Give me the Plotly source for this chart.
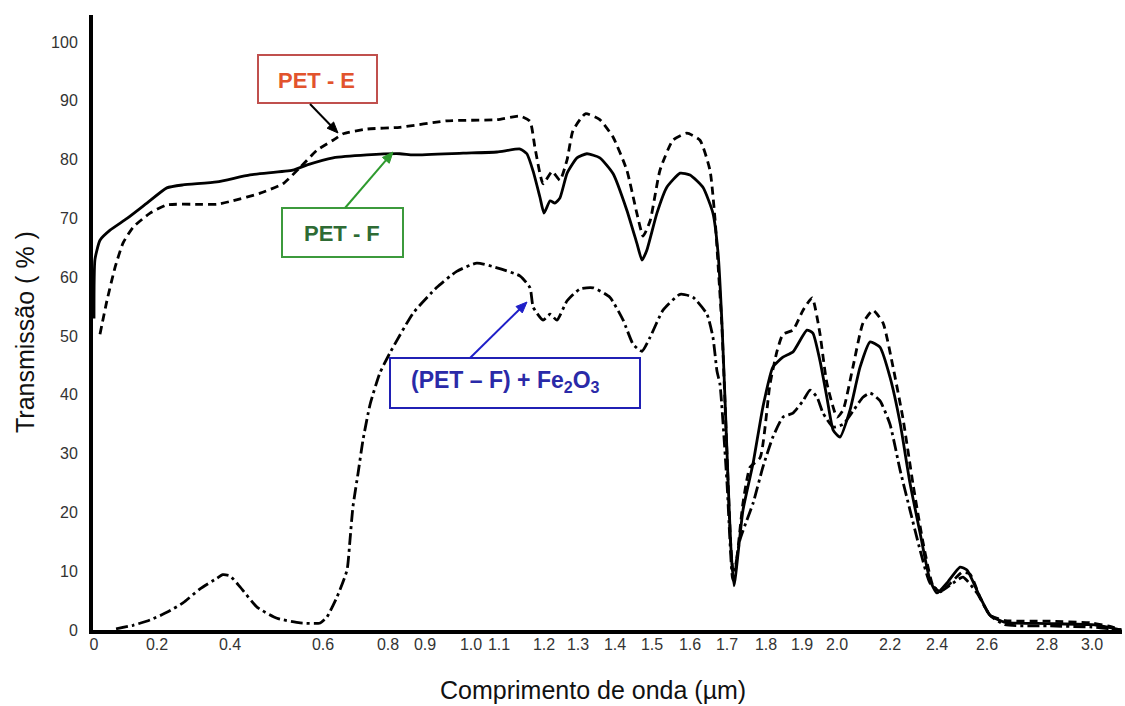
import numpy as np
import plotly.graph_objects as go

# ---------------- data (wavelength in µm, transmission in %) ----------------
TICK_UM = [0.0, 0.2, 0.4, 0.6, 0.8, 0.9, 1.0, 1.1, 1.2, 1.3, 1.4, 1.5, 1.6, 1.7,
           1.8, 1.9, 2.0, 2.2, 2.4, 2.6, 2.8, 3.0]
TICK_TEXT = ["0", "0.2", "0.4", "0.6", "0.8", "0.9", "1.0", "1.1", "1.2", "1.3", "1.4",
             "1.5", "1.6", "1.7", "1.8", "1.9", "2.0", "2.2", "2.4", "2.6", "2.8", "3.0"]
Y_TICKS = [0, 10, 20, 30, 40, 50, 60, 70, 80, 90, 100]

pet_f_wl = [0.0, 0.003, 0.019, 0.051, 0.105, 0.168, 0.227, 0.271, 0.364, 0.443, 0.535,
            0.566, 0.631, 0.735, 0.832, 0.868, 0.983, 1.093, 1.147, 1.162, 1.176, 1.191,
            1.2, 1.218, 1.232, 1.247, 1.268, 1.297, 1.324, 1.359, 1.395, 1.432, 1.459,
            1.473, 1.486, 1.513, 1.539, 1.574, 1.6, 1.635, 1.662, 1.676, 1.686, 1.695,
            1.703, 1.71, 1.718, 1.741, 1.767, 1.792, 1.819, 1.847, 1.875, 1.914, 1.931,
            1.951, 1.971, 1.989, 2.011, 2.049, 2.087, 2.125, 2.162, 2.2, 2.243, 2.285,
            2.328, 2.37, 2.4, 2.44, 2.492, 2.52, 2.572, 2.61, 2.66, 2.8, 3.0, 3.08, 3.13]
pet_f_t = [53, 63, 66.3, 68, 70, 72.6, 75.2, 75.7, 76.2, 77.4, 78.2,
           79.1, 80.3, 80.8, 81, 80.8, 81.1, 81.3, 81.8, 81, 78, 73.6,
           70.9, 73, 72.6, 73.5, 77.7, 80.3, 81, 80.3, 77.6, 71.4, 65.8,
           62.9, 64.6, 70.9, 75.3, 77.7, 77.4, 75.3, 70.9, 64, 52.7, 38.6,
           25, 14, 7.5, 20.4, 28.4, 37.9, 44.7, 46.4, 47.3, 51, 50.5,
           45.9, 39.6, 34, 32.8, 37.4, 44.7, 49, 48.1, 43, 35.2, 25,
           16.5, 8.5, 6.3, 8, 10.7, 10.2, 5.6, 2.5, 1.3, 1.1, 0.9, 0.4, 0]

pet_e_wl = [0.019, 0.041, 0.067, 0.092, 0.124, 0.178, 0.227, 0.318, 0.364, 0.406, 0.465,
            0.514, 0.551, 0.587, 0.631, 0.662, 0.735, 0.832, 0.948, 1.093, 1.147, 1.169,
            1.18, 1.198, 1.224, 1.247, 1.268, 1.285, 1.32, 1.359, 1.395, 1.432, 1.459,
            1.476, 1.495, 1.521, 1.555, 1.592, 1.627, 1.654, 1.668, 1.678, 1.686, 1.695,
            1.71, 1.718, 1.741, 1.759, 1.785, 1.811, 1.831, 1.847, 1.875, 1.903, 1.929,
            1.951, 1.971, 2.0, 2.023, 2.06, 2.098, 2.136, 2.174, 2.213, 2.255, 2.298,
            2.34, 2.383, 2.413, 2.455, 2.5, 2.532, 2.572, 2.61, 2.66, 2.8, 3.0, 3.08, 3.13]
pet_e_t = [50.3, 56, 61.7, 65.8, 68.5, 70.9, 72.3, 72.4, 72.4, 73, 74.3,
           75.9, 78.7, 81.6, 83.3, 84.4, 85.2, 85.5, 86.6, 86.8, 87.4, 86.5,
           82, 75.9, 78, 76.5, 80, 84.9, 87.8, 86.8, 83.8, 78.2, 70.9,
           67, 69.6, 78.2, 83.3, 84.5, 83.3, 78.2, 69.6, 60, 52, 38,
           14, 8.5, 21.6, 27.7, 29.3, 41.8, 47.5, 50.3, 51, 54.4, 56.5,
           50.5, 42, 36.2, 37.4, 44.7, 52.2, 54.4, 52.2, 44.7, 36, 24.8,
           15, 7.5, 6.5, 8, 9.8, 9.5, 5.6, 2.5, 1.6, 1.5, 1.2, 0.6, 0]

pet_fe_wl = [0.07, 0.124, 0.178, 0.227, 0.271, 0.318, 0.364, 0.38, 0.4, 0.422, 0.458,
             0.501, 0.551, 0.594, 0.612, 0.643, 0.674, 0.683, 0.692, 0.708, 0.723, 0.745,
             0.775, 0.805, 0.868, 0.926, 0.969, 1.021, 1.093, 1.147, 1.169, 1.176, 1.198,
             1.218, 1.238, 1.268, 1.305, 1.341, 1.386, 1.422, 1.449, 1.473, 1.495, 1.529,
             1.574, 1.608, 1.646, 1.662, 1.673, 1.681, 1.7, 1.715, 1.733, 1.751, 1.767,
             1.792, 1.819, 1.847, 1.875, 1.903, 1.923, 1.943, 1.96, 1.989, 2.023, 2.06,
             2.098, 2.125, 2.162, 2.2, 2.243, 2.285, 2.328, 2.37, 2.413, 2.464, 2.504,
             2.56, 2.61, 2.66, 2.8, 3.0, 3.08, 3.13]
pet_fe_t = [0.2, 0.8, 1.7, 3, 4.6, 7, 8.8, 9.4, 9.2, 7.3, 3.9,
            2, 1.2, 1.2, 2.2, 5.6, 10.2, 15.3, 20.9, 26.7, 32.3, 38.4,
            43.7, 47.1, 53.9, 58.3, 61, 62.4, 61.6, 60.2, 58.2, 54.9, 52.7,
            53.7, 52.7, 56, 58, 58.2, 56.6, 52.7, 48.6, 47.4, 49.8, 54.4,
            57.1, 56.6, 53.7, 49.8, 44, 41.8, 25, 8.5, 15.3, 18.7, 21.6,
            27.7, 32.8, 36.2, 36.9, 39, 40.8, 39.6, 36.9, 34.5, 35, 37.2,
            39.6, 40.3, 39, 35, 27.2, 20.4, 13.6, 8, 6.6, 8, 9,
            6.3, 2.5, 0.9, 0.7, 0.5, 0.2, 0]

# ---------------- scale: the reference's hand-spaced (non-uniform) x axis ----------------
AXIS_POS = [94, 157, 230, 323, 388, 425, 471, 499, 544, 578, 615, 652, 690, 727,
            766, 802, 837, 890, 937, 987, 1047, 1092]
_scale_um = TICK_UM + [3.2]
_scale_pos = AXIS_POS + [1137]


def xs(um):
    return np.interp(np.asarray(um, dtype=float), _scale_um, _scale_pos)


FONT = "Liberation Sans, Arial, Helvetica, sans-serif"
W, H = 1125, 706
ML, MR, MT, MB = 93, 3, 15, 76
PW, PH = W - ML - MR, H - MT - MB


def px(x, y):
    """page pixel -> paper coordinates"""
    return (x - ML) / PW, (H - MB - y) / PH


fig = go.Figure()
common = dict(mode="lines", showlegend=False, hoverinfo="skip",
              line_shape="spline", line_smoothing=0.5)
fig.add_trace(go.Scatter(x=xs(pet_e_wl), y=pet_e_t, name="PET - E",
                         line=dict(color="black", width=2.8, dash="8px,5px"), **common))
fig.add_trace(go.Scatter(x=xs(pet_fe_wl), y=pet_fe_t, name="(PET – F) + Fe2O3",
                         line=dict(color="black", width=2.8, dash="12px,4px,3px,4px"), **common))
fig.add_trace(go.Scatter(x=xs(pet_f_wl), y=pet_f_t, name="PET - F",
                         line=dict(color="black", width=2.8), **common))

# label boxes (page pixels)
boxes = [
    dict(x0=258, x1=377, y0=55, y1=103, color="#c0504d"),
    dict(x0=282, x1=403, y0=208, y1=257, color="#3c9a3c"),
    dict(x0=390, x1=640, y0=358, y1=408, color="#2020b4"),
]
for b in boxes:
    X0, Y0 = px(b["x0"], b["y1"])
    X1, Y1 = px(b["x1"], b["y0"])
    fig.add_shape(type="rect", xref="paper", yref="paper", x0=X0, x1=X1, y0=Y0, y1=Y1,
                  line=dict(color=b["color"], width=2), fillcolor="white", layer="above")

labels = [
    dict(x=316, y=80, text="PET - E", color="#e2532d", size=22),
    dict(x=342, y=233, text="PET - F", color="#2e6b34", size=22),
    dict(x=505, y=382, text="(PET – F) + Fe<sub>2</sub>O<sub>3</sub>", color="#2a2aa8", size=23),
]
for l in labels:
    X, Y = px(l["x"], l["y"])
    fig.add_annotation(x=X, y=Y, xref="paper", yref="paper", text="<b>" + l["text"] + "</b>",
                       xanchor="center", yanchor="middle",
                       showarrow=False, font=dict(family=FONT, size=l["size"], color=l["color"]))

# arrows (line + filled head), page pixels
arrows = [
    dict(t=(310, 104), h=(338, 133), color="black"),
    dict(t=(345, 208), h=(393, 152), color="#2e9a2e"),
    dict(t=(470, 358), h=(527, 302), color="#1f1fc8"),
]
for a in arrows:
    tx, ty = a["t"]
    hx, hy = a["h"]
    d = np.array([hx - tx, hy - ty], dtype=float)
    d /= np.hypot(*d)
    n = np.array([-d[1], d[0]])
    L, Wd = 11.0, 4.5
    base = np.array([hx, hy]) - d * L
    p1 = base + n * Wd
    p2 = base - n * Wd
    X0, Y0 = px(tx, ty)
    X1, Y1 = px(*(base + d * 1.0))
    fig.add_shape(type="line", xref="paper", yref="paper", x0=X0, y0=Y0, x1=X1, y1=Y1,
                  line=dict(color=a["color"], width=2), layer="above")
    pts = [px(hx, hy), px(*p1), px(*p2)]
    path = "M {:.5f},{:.5f} L {:.5f},{:.5f} L {:.5f},{:.5f} Z".format(*pts[0], *pts[1], *pts[2])
    fig.add_shape(type="path", xref="paper", yref="paper", path=path,
                  fillcolor=a["color"], line=dict(color=a["color"], width=1), layer="above")

# axis titles
tx, ty = px(593, 690)
fig.add_annotation(x=tx, y=ty, xref="paper", yref="paper", text="Comprimento de onda (µm)",
                   xanchor="center", yanchor="middle",
                   showarrow=False, font=dict(family=FONT, size=25, color="#111"))
tx, ty = px(25, 332)
fig.add_annotation(x=tx, y=ty, xref="paper", yref="paper", text="Transmissão ( % )",
                   xanchor="center", yanchor="middle",
                   textangle=-90, showarrow=False, font=dict(family=FONT, size=25, color="#111"))

fig.update_layout(
    width=W, height=H,
    margin=dict(l=ML, r=MR, t=MT, b=MB),
    paper_bgcolor="white", plot_bgcolor="white",
    font=dict(family=FONT, color="#222"),
    xaxis=dict(range=[93, 1122], tickmode="array", tickvals=AXIS_POS, ticktext=TICK_TEXT,
               showgrid=False, zeroline=False, showline=True, linecolor="black", linewidth=4,
               ticks="", tickfont=dict(size=16, color="#333"), ticklabelstandoff=-3),
    yaxis=dict(range=[0, 104.6], tickmode="array", tickvals=Y_TICKS,
               showgrid=False, zeroline=False, showline=True, linecolor="black", linewidth=4,
               ticks="", tickfont=dict(size=16, color="#333"), ticklabelstandoff=8),
)

fig.write_html("out.html")
